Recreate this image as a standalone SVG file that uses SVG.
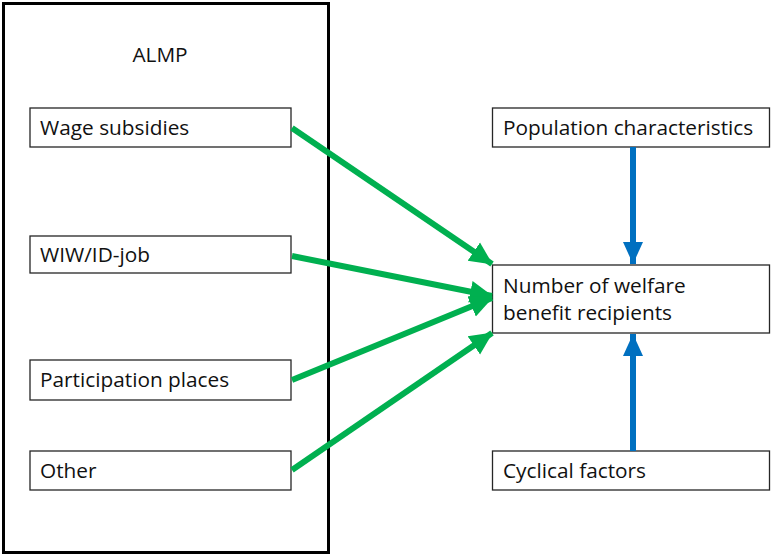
<svg xmlns="http://www.w3.org/2000/svg" width="771" height="555" viewBox="0 0 771 555">
<style>
.box{fill:#fff;stroke:#262626;stroke-width:1.3}
.t{font-family:"Open Sans","Noto Sans",sans-serif;font-size:20.8px;fill:#111}
.g{stroke:#00b050;stroke-width:6;fill:none}
.b{stroke:#0070c0;stroke-width:6;fill:none}
</style>
<defs>
<marker id="ag" markerUnits="userSpaceOnUse" markerWidth="24" markerHeight="24" viewBox="0 0 24 24" refX="22" refY="12" orient="auto"><path d="M0,1 L23,12 L0,23 Z" fill="#00b050"/></marker>
<marker id="ab" markerUnits="userSpaceOnUse" markerWidth="24" markerHeight="24" viewBox="0 0 24 24" refX="22" refY="12" orient="auto"><path d="M0,2 L22,12 L0,22 Z" fill="#0070c0"/></marker>
</defs>
<rect width="771" height="555" fill="#fff"/>
<g id="almp">
<rect x="3.5" y="3.5" width="325" height="549" fill="none" stroke="#000" stroke-width="3"/>
<text class="t" x="160" y="62" text-anchor="middle">ALMP</text>
</g>
<g id="wage"><rect class="box" x="30" y="108" width="261" height="39"/><text class="t" x="40" y="135">Wage subsidies</text></g>
<g id="wiw"><rect class="box" x="30" y="236" width="261" height="37"/><text class="t" x="40" y="262">WIW/ID-job</text></g>
<g id="part"><rect class="box" x="30" y="360" width="261" height="40"/><text class="t" x="40" y="387">Participation places</text></g>
<g id="other"><rect class="box" x="30" y="451" width="261" height="39"/><text class="t" x="40" y="478">Other</text></g>
<g id="pop"><rect class="box" x="492.5" y="108" width="277" height="39"/><text class="t" x="503" y="135">Population characteristics</text></g>
<g id="num"><rect class="box" x="492.5" y="265" width="277" height="68"/><text class="t" x="503" y="293">Number of welfare</text><text class="t" x="503" y="320">benefit recipients</text></g>
<g id="cyc"><rect class="box" x="492.5" y="451" width="277" height="39"/><text class="t" x="503" y="478">Cyclical factors</text></g>
<g id="connectors">
<line class="g" x1="292" y1="128" x2="492" y2="264" marker-end="url(#ag)"/>
<line class="g" x1="292" y1="256" x2="492" y2="296" marker-end="url(#ag)"/>
<line class="g" x1="292" y1="380" x2="492" y2="298" marker-end="url(#ag)"/>
<line class="g" x1="292" y1="470" x2="492" y2="333" marker-end="url(#ag)"/>
<line class="b" x1="633" y1="147" x2="633" y2="264" marker-end="url(#ab)"/>
<line class="b" x1="633" y1="451" x2="633" y2="334" marker-end="url(#ab)"/>
</g>
</svg>
